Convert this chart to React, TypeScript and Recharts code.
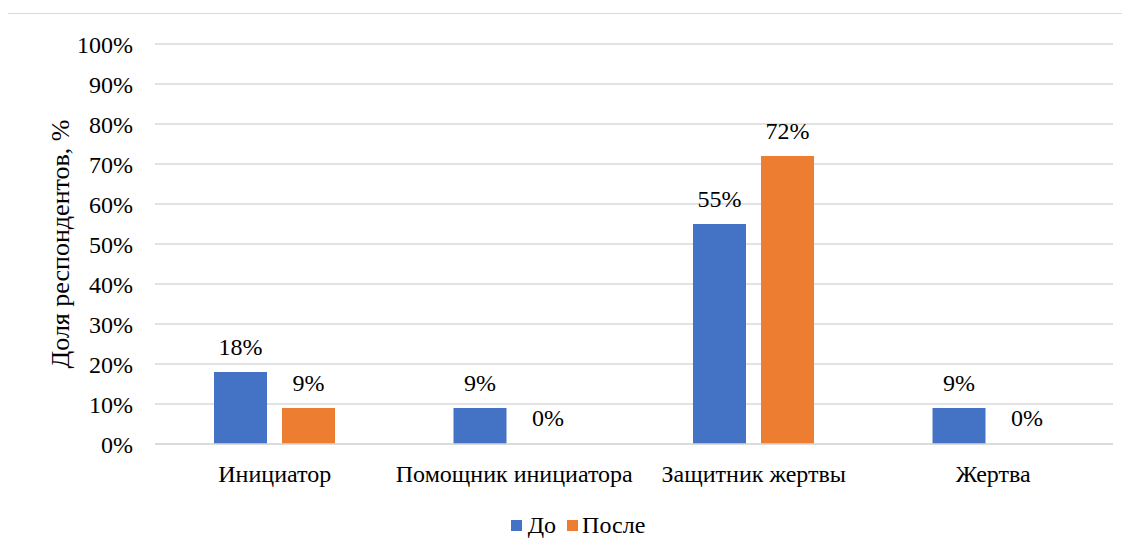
import { BarChart, Bar, XAxis, YAxis, CartesianGrid, Legend, Rectangle } from 'recharts';

const categories = ['Инициатор', 'Помощник инициатора', 'Защитник жертвы', 'Жертва'];
const before = [18, 9, 55, 9];
const after = [9, 0, 72, 0];
const yTicks = [0, 10, 20, 30, 40, 50, 60, 70, 80, 90, 100];
const seriesNames = ['До', 'После'];
const seriesColors = ['#4472C4', '#ED7D31'];

const data = categories.map((name, i) => ({ name, before: before[i], after: after[i] }));

const font = 'Liberation Serif';
const pct = (v: number) => `${v}%`;

// zero-value bars get a 1px min size so their label still shows, but the bar itself is hidden
const barShape = (props: any) => {
    if (props.height < 2) return <g />;
    return <Rectangle {...props} />;
};

const renderLegend = () => (
    <div style={{ display: 'flex', justifyContent: 'center', paddingLeft: 18, fontFamily: font, fontSize: 24, color: '#000' }}>
        {seriesNames.map((n, i) => (
            <div key={n} style={{ display: 'flex', alignItems: 'center', marginRight: i === 0 ? 11 : 0 }}>
                <span style={{ width: 11, height: 11, background: seriesColors[i], marginRight: i === 0 ? 6 : 4 }} />
                <span>{n}</span>
            </div>
        ))}
    </div>
);

export default function App() {
    return (
        <div style={{ position: 'relative', width: 1122, height: 548, overflow: 'hidden', fontFamily: font }}>
            <div
                style={{
                    position: 'absolute',
                    left: -1,
                    top: 5,
                    width: 1200,
                    height: 700,
                    border: '1px solid #d9d9d9',
                    boxSizing: 'border-box',
                }}
            />
            <BarChart
                width={1122}
                height={548}
                data={data}
                margin={{ top: 36, right: 17, left: 0, bottom: 0 }}
                barSize={53}
                barGap={15}
            >
                <CartesianGrid vertical={false} stroke="#d9d9d9" strokeWidth={1.5} />
                <XAxis
                    dataKey="name"
                    axisLine={{ stroke: '#d9d9d9', strokeWidth: 1.5 }}
                    tickLine={false}
                    tickSize={0}
                    tickMargin={21}
                    height={68}
                    interval={0}
                    tick={{ fill: '#000', fontSize: 24, fontFamily: font }}
                />
                <YAxis
                    width={147}
                    domain={[0, 100]}
                    ticks={yTicks}
                    tickFormatter={pct}
                    axisLine={false}
                    tickLine={false}
                    tickSize={0}
                    tickMargin={22}
                    tick={{ fill: '#000', fontSize: 24, fontFamily: font }}
                    label={{
                        value: 'Доля респондентов, %',
                        angle: -90,
                        position: 'insideLeft',
                        offset: 52,
                        style: { textAnchor: 'middle', fill: '#000', fontSize: 26, fontFamily: font },
                    }}
                />
                <Legend
                    verticalAlign="bottom"
                    align="center"
                    height={44}
                    wrapperStyle={{ left: 0, width: 1122 }}
                    content={renderLegend}
                />
                <Bar
                    dataKey="before"
                    name={seriesNames[0]}
                    fill={seriesColors[0]}
                    minPointSize={1}
                    shape={barShape}
                    isAnimationActive={false}
                    label={{ position: 'top', offset: 17, formatter: pct, fill: '#000', fontSize: 24, fontFamily: font }}
                />
                <Bar
                    dataKey="after"
                    name={seriesNames[1]}
                    fill={seriesColors[1]}
                    minPointSize={1}
                    shape={barShape}
                    isAnimationActive={false}
                    label={{ position: 'top', offset: 17, formatter: pct, fill: '#000', fontSize: 24, fontFamily: font }}
                />
            </BarChart>
        </div>
    );
}
